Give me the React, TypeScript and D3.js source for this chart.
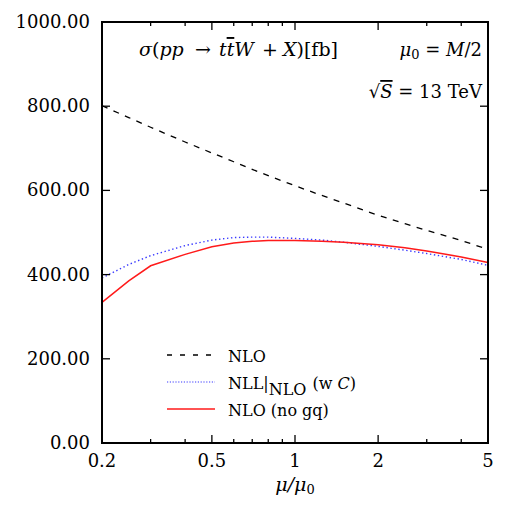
import React from 'react';
import * as d3 from 'd3';

// Scale-variation plot: sigma(pp -> ttW + X) vs mu/mu0, log x axis.

const WIDTH = 519;
const HEIGHT = 505;
const FRAME = { left: 102, right: 488, top: 22, bottom: 443 };
const SERIF = '"DejaVu Serif", "Liberation Serif", serif';

const muGrid = [0.2, 0.25, 0.3, 0.4, 0.5, 0.6, 0.7, 0.8, 1, 1.25, 1.5, 2, 2.5, 3, 4, 5];
const nloValues = [801, 773, 750, 715, 689, 668, 650, 635, 611, 588, 570, 541, 521, 505, 481, 460];
const nllValues = [392, 424, 445, 469, 482, 488, 489, 489, 486, 482, 477, 467, 458, 450, 436, 422];
const noGqValues = [334, 385, 421, 448, 466, 475, 479, 481, 481, 479, 477, 471, 464, 456, 442, 429];

const yTicks = [0, 200, 400, 600, 800, 1000];
const xMajorTicks = [0.2, 0.5, 1, 2, 5];
const xMinorTicks = [0.3, 0.4, 0.6, 0.7, 0.8, 0.9, 3, 4];

const series = [
  { key: 'nlo', values: nloValues, stroke: '#000', dash: '6,6.5', width: 1.3 },
  { key: 'nll', values: nllValues, stroke: '#3a3aff', dash: '1.4,2.6', width: 1.4 },
  { key: 'nogq', values: noGqValues, stroke: '#ff1a1a', dash: null, width: 1.5 },
];

export default function App() {
  const x = d3.scaleLog().domain([0.2, 5]).range([FRAME.left, FRAME.right]);
  const y = d3.scaleLinear().domain([0, 1000]).range([FRAME.bottom, FRAME.top]);

  const line = (vals: number[]) =>
    d3
      .line<number>()
      .x((_, i) => x(muGrid[i]))
      .y((v) => y(v))(vals) ?? '';

  const legendX0 = 167;
  const legendX1 = 215;
  const legendRows = [355, 382, 409];

  return (
    <svg
      width={WIDTH}
      height={HEIGHT}
      viewBox={`0 0 ${WIDTH} ${HEIGHT}`}
      style={{ position: 'absolute', left: 0, top: 0, background: '#fff' }}
      fontFamily={SERIF}
    >
      <rect width={WIDTH} height={HEIGHT} fill="#fff" />

      {/* curves */}
      <g fill="none">
        {series.map((s) => (
          <path
            key={s.key}
            d={line(s.values)}
            stroke={s.stroke}
            strokeWidth={s.width}
            strokeDasharray={s.dash ?? undefined}
          />
        ))}
      </g>

      {/* ticks, inward on all four sides */}
      <g stroke="#000" strokeWidth={1.3}>
        {yTicks.map((t) => (
          <g key={`yt-${t}`}>
            <line x1={FRAME.left} x2={FRAME.left + 8} y1={y(t)} y2={y(t)} />
            <line x1={FRAME.right} x2={FRAME.right - 8} y1={y(t)} y2={y(t)} />
          </g>
        ))}
        {xMajorTicks.map((t) => (
          <g key={`xt-${t}`}>
            <line x1={x(t)} x2={x(t)} y1={FRAME.bottom} y2={FRAME.bottom - 8} />
            <line x1={x(t)} x2={x(t)} y1={FRAME.top} y2={FRAME.top + 8} />
          </g>
        ))}
        {xMinorTicks.map((t) => (
          <g key={`xm-${t}`}>
            <line x1={x(t)} x2={x(t)} y1={FRAME.bottom} y2={FRAME.bottom - 4} />
            <line x1={x(t)} x2={x(t)} y1={FRAME.top} y2={FRAME.top + 4} />
          </g>
        ))}
      </g>

      {/* frame */}
      <rect
        x={FRAME.left}
        y={FRAME.top}
        width={FRAME.right - FRAME.left}
        height={FRAME.bottom - FRAME.top}
        fill="none"
        stroke="#000"
        strokeWidth={2}
      />

      {/* tick labels */}
      <g fontSize={18} fill="#000">
        {yTicks.map((t) => (
          <text key={`yl-${t}`} x={90} y={y(t) + 6} textAnchor="end">
            {t.toFixed(2)}
          </text>
        ))}
        {xMajorTicks.map((t) => (
          <text key={`xl-${t}`} x={x(t)} y={467} textAnchor="middle">
            {String(t)}
          </text>
        ))}
      </g>

      {/* axis title */}
      <text x={295} y={491} textAnchor="middle" fontSize={19} fontStyle="italic">
        μ/μ<tspan fontStyle="normal" fontSize={13} dy={3}>0</tspan>
      </text>

      {/* annotations: process label, pieces placed like LaTeX math spacing */}
      <text y={56} fontSize={19}>
        <tspan x={139} fontStyle="italic">σ</tspan>
        <tspan>(</tspan>
        <tspan fontStyle="italic">pp</tspan>
        <tspan x={195}>→</tspan>
        <tspan x={219} fontStyle="italic">t</tspan>
        <tspan fontStyle="italic" textDecoration="overline">t</tspan>
        <tspan fontStyle="italic">W</tspan>
        <tspan x={262}>+</tspan>
        <tspan x={283} fontStyle="italic">X</tspan>
        <tspan>)[fb]</tspan>
      </text>
      <text x={482} y={56} fontSize={18} textAnchor="end">
        <tspan fontStyle="italic">μ</tspan>
        <tspan fontSize={13} dy={3}>0</tspan>
        <tspan dy={-3}> = </tspan>
        <tspan fontStyle="italic">M</tspan>/2
      </text>
      <text x={482} y={98} fontSize={18} textAnchor="end">
        √<tspan fontStyle="italic" textDecoration="overline">S</tspan> = 13 TeV
      </text>

      {/* legend */}
      <g fontSize={16}>
        <line
          x1={legendX0}
          x2={legendX1}
          y1={legendRows[0]}
          y2={legendRows[0]}
          stroke="#000"
          strokeWidth={1.3}
          strokeDasharray="5,8"
        />
        <line
          x1={legendX0}
          x2={legendX1}
          y1={legendRows[1]}
          y2={legendRows[1]}
          stroke="#3a3aff"
          strokeWidth={1.2}
          strokeDasharray="1.2,1.6"
        />
        <line
          x1={legendX0}
          x2={legendX1}
          y1={legendRows[2]}
          y2={legendRows[2]}
          stroke="#ff1a1a"
          strokeWidth={1.5}
        />
        <text x={228} y={legendRows[0] + 6.5}>NLO</text>
        <text x={228} y={legendRows[1] + 6.5}>
          NLL|<tspan dy={6}>NLO</tspan>
          <tspan dy={-6} dx={6}>(w </tspan>
          <tspan fontStyle="italic">C</tspan>)
        </text>
        <text x={228} y={legendRows[2] + 6.5}>NLO (no gq)</text>
      </g>
    </svg>
  );
}
